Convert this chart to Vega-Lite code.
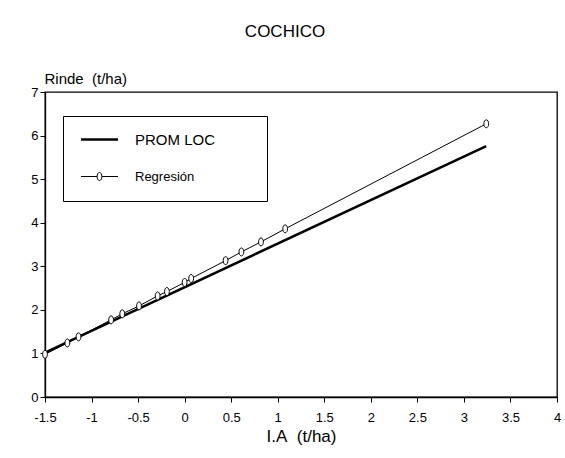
{
  "$schema": "https://vega.github.io/schema/vega-lite/v6.json",
  "width": 512,
  "height": 305,
  "autosize": {"type": "none"},
  "padding": {"left": 45, "top": 92, "right": 8, "bottom": 61},
  "background": "white",
  "title": {"text": "COCHICO", "font": "Liberation Sans", "fontSize": 17, "fontWeight": "normal", "color": "black", "anchor": "middle", "dx": -16, "offset": 30},
  "data": {"values": [
    {"series": "PROM LOC", "x": -1.5, "y": 1.02},
    {"series": "PROM LOC", "x": 3.24, "y": 5.76},
    {"series": "Regresión", "x": -1.5, "y": 0.98},
    {"series": "Regresión", "x": -1.26, "y": 1.24},
    {"series": "Regresión", "x": -1.14, "y": 1.38},
    {"series": "Regresión", "x": -0.79, "y": 1.77},
    {"series": "Regresión", "x": -0.67, "y": 1.91},
    {"series": "Regresión", "x": -0.49, "y": 2.09},
    {"series": "Regresión", "x": -0.29, "y": 2.32},
    {"series": "Regresión", "x": -0.19, "y": 2.42},
    {"series": "Regresión", "x": 0.0, "y": 2.63},
    {"series": "Regresión", "x": 0.07, "y": 2.72},
    {"series": "Regresión", "x": 0.44, "y": 3.13},
    {"series": "Regresión", "x": 0.61, "y": 3.33},
    {"series": "Regresión", "x": 0.82, "y": 3.56},
    {"series": "Regresión", "x": 1.08, "y": 3.86},
    {"series": "Regresión", "x": 3.24, "y": 6.27}
  ]},
  "encoding": {
    "x": {"field": "x", "type": "quantitative",
      "scale": {"domain": [-1.5, 4], "nice": false, "zero": false},
      "axis": {"title": "I.A\u00a0\u00a0(t/ha)", "titleFontSize": 17, "values": [-1.5, -1, -0.5, 0, 0.5, 1, 1.5, 2, 2.5, 3, 3.5, 4],
        "labelExpr": "replace(format(datum.value, ''), '\u2212', '-')", "labelFontSize": 13,
        "tickSize": 5, "labelPadding": 9, "titlePadding": 4, "labelFlush": false, "labelOverlap": false,
        "encode": {"ticks": {"update": {"y2": {"value": -5}}}}}},
    "y": {"field": "y", "type": "quantitative",
      "scale": {"domain": [0, 7], "nice": false},
      "axis": {"title": "Rinde\u00a0\u00a0(t/ha)", "titleFontSize": 15, "values": [0, 1, 2, 3, 4, 5, 6, 7],
        "tickSize": 5, "labelPadding": 2, "titleAngle": 0, "titleX": -1, "titleY": -9,
        "titleAlign": "left", "titleBaseline": "alphabetic", "labelFontSize": 13,
        "encode": {"ticks": {"update": {"x2": {"value": 5}}}}}},
    "color": {"field": "series", "type": "nominal",
      "scale": {"domain": ["PROM LOC", "Regresión"], "range": ["black", "black"]},
      "legend": {"title": "\u00a0", "titleOrient": "right", "titlePadding": 35, "titleFontSize": 13,
        "encode": {
          "symbols": {"update": {
            "shape": {"signal": "datum.value == 'PROM LOC' ? 'M-1,0L1,0' : 'M-1,0L-0.13,0M0.13,0L1,0M0,-0.22A0.13,0.22 0 1,1 0,0.22A0.13,0.22 0 1,1 0,-0.22Z'"},
            "strokeWidth": {"signal": "datum.value == 'PROM LOC' ? 2.5 : 1"},
            "fill": {"value": "white"},
            "stroke": {"value": "black"}
          }},
          "labels": {"update": {
            "fontSize": {"signal": "datum.value == 'PROM LOC' ? 15 : 13"}
          }}
        }}}
  },
  "layer": [
    {"transform": [{"filter": "datum.series == 'PROM LOC'"}],
     "mark": {"type": "line", "strokeWidth": 2.5}},
    {"transform": [{"filter": "datum.series == 'Regresión'"}],
     "mark": {"type": "line", "strokeWidth": 1}},
    {"transform": [{"filter": "datum.series == 'Regresión'"}],
     "mark": {"type": "point", "shape": "M0,-1A0.6,1 0 1,1 0,1A0.6,1 0 1,1 0,-1Z", "size": 64, "filled": false, "fill": "white", "fillOpacity": 1, "stroke": "black", "strokeWidth": 1, "opacity": 1}}
  ],
  "config": {
    "font": "Liberation Sans",
    "view": {"stroke": "black", "strokeWidth": 1.3},
    "axis": {"domainColor": "black", "domainWidth": 1.3, "tickColor": "black", "tickWidth": 1,
      "labelColor": "black", "labelFontSize": 12, "labelFont": "Liberation Sans",
      "titleColor": "black", "titleFontSize": 13, "titleFontWeight": "normal", "titleFont": "Liberation Sans", "grid": false},
    "legend": {"orient": "none", "legendX": 18, "legendY": 24, "padding": 17,
      "strokeColor": "black", "fillColor": "white", "symbolSize": 1369, "symbolOffset": 13,
      "labelOffset": 29, "labelFontSize": 13, "labelColor": "black", "labelFont": "Liberation Sans",
      "rowPadding": 22, "symbolStrokeWidth": 1}
  }
}
